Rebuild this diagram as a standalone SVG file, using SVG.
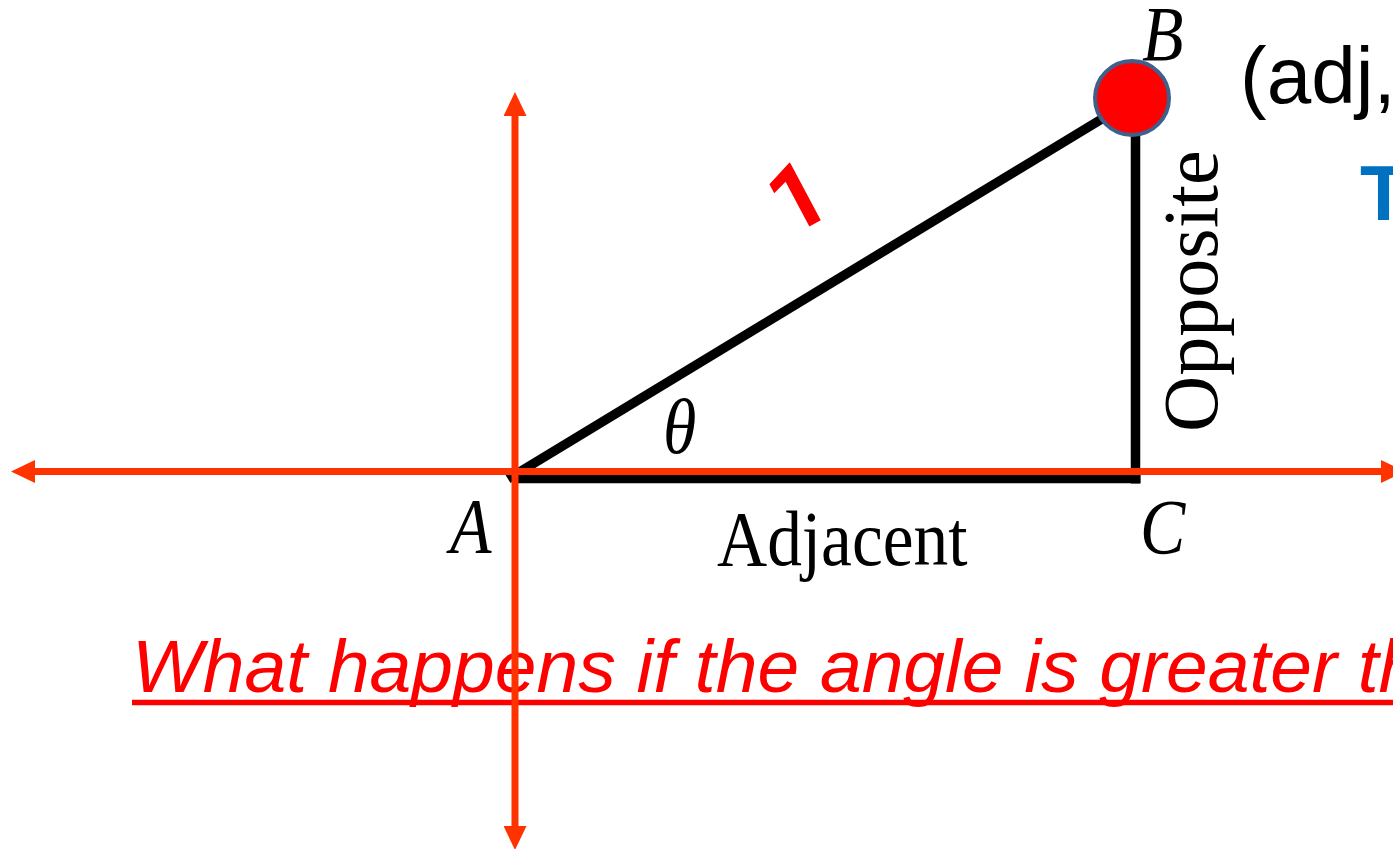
<svg xmlns="http://www.w3.org/2000/svg" width="1393" height="849" viewBox="0 0 1393 849">
<style>
.tri{stroke:#000;stroke-width:9.5;fill:none;stroke-linecap:butt}
.axis{stroke:#FF3300;stroke-width:7;fill:none}
.lbl{font-family:"Liberation Serif","Times New Roman",serif;font-size:78px;fill:#000}
.it{font-style:italic}
.sans{font-family:"Liberation Sans",Arial,sans-serif}
</style>
<defs>
<marker id="ah" viewBox="0 0 24 23" markerWidth="24" markerHeight="23" refX="2" refY="11.5" orient="auto-start-reverse" markerUnits="userSpaceOnUse">
<path d="M0,0 L24,11.5 L0,23 Z" fill="#FF3300"/>
</marker>
</defs>
<rect width="1393" height="849" fill="#fff"/>
<g id="triangle">
<line class="tri" x1="508" y1="479" x2="1110" y2="114"/>
<line class="tri" x1="512" y1="478.5" x2="1140.5" y2="478.5"/>
<line class="tri" x1="1135.5" y1="120" x2="1135.5" y2="483.5"/>
</g>
<g id="labels">
<text class="lbl it" transform="translate(450,552) scale(0.87,1)">A</text>
<text class="lbl it" transform="translate(1142,60) scale(0.87,1)">B</text>
<text class="lbl it" transform="translate(1140,553) scale(0.87,1)">C</text>
<text class="lbl it" transform="translate(663,453) scale(0.87,1)">θ</text>
<text class="lbl" transform="translate(717,565) scale(0.89,1)">Adjacent</text>
<text class="lbl" transform="translate(1217,432) rotate(-90)">Opposite</text>
</g>
<g id="hyp-label">
<text font-family="Roboto,'Open Sans',sans-serif" font-weight="700" font-size="92" fill="#FF0000" text-anchor="middle" transform="translate(802,193) rotate(-28)" x="-6" y="33">1</text>
</g>
<g id="point-B">
<circle cx="1132" cy="98" r="37" fill="#FF0000" stroke="#3F5F8C" stroke-width="4"/>
</g>
<g id="coord-text">
<text class="sans" font-size="80" fill="#000" x="1240" y="103">(adj,</text>
<text class="sans" font-size="77" font-weight="bold" fill="#0070C0" x="1360" y="220">T</text>
</g>
<g id="question">
<text class="sans" font-size="75" font-style="italic" fill="#FF0000" x="132" y="692">What happens if the angle is greater th</text>
<line x1="132" y1="702.5" x2="1393" y2="702.5" stroke="#FF0000" stroke-width="5.5"/>
</g>
<g id="connectors">
<line class="axis" x1="33" y1="471.5" x2="1383" y2="471.5" marker-start="url(#ah)" marker-end="url(#ah)"/>
<line class="axis" x1="515" y1="114" x2="515" y2="828" marker-start="url(#ah)" marker-end="url(#ah)"/>
</g>
</svg>
